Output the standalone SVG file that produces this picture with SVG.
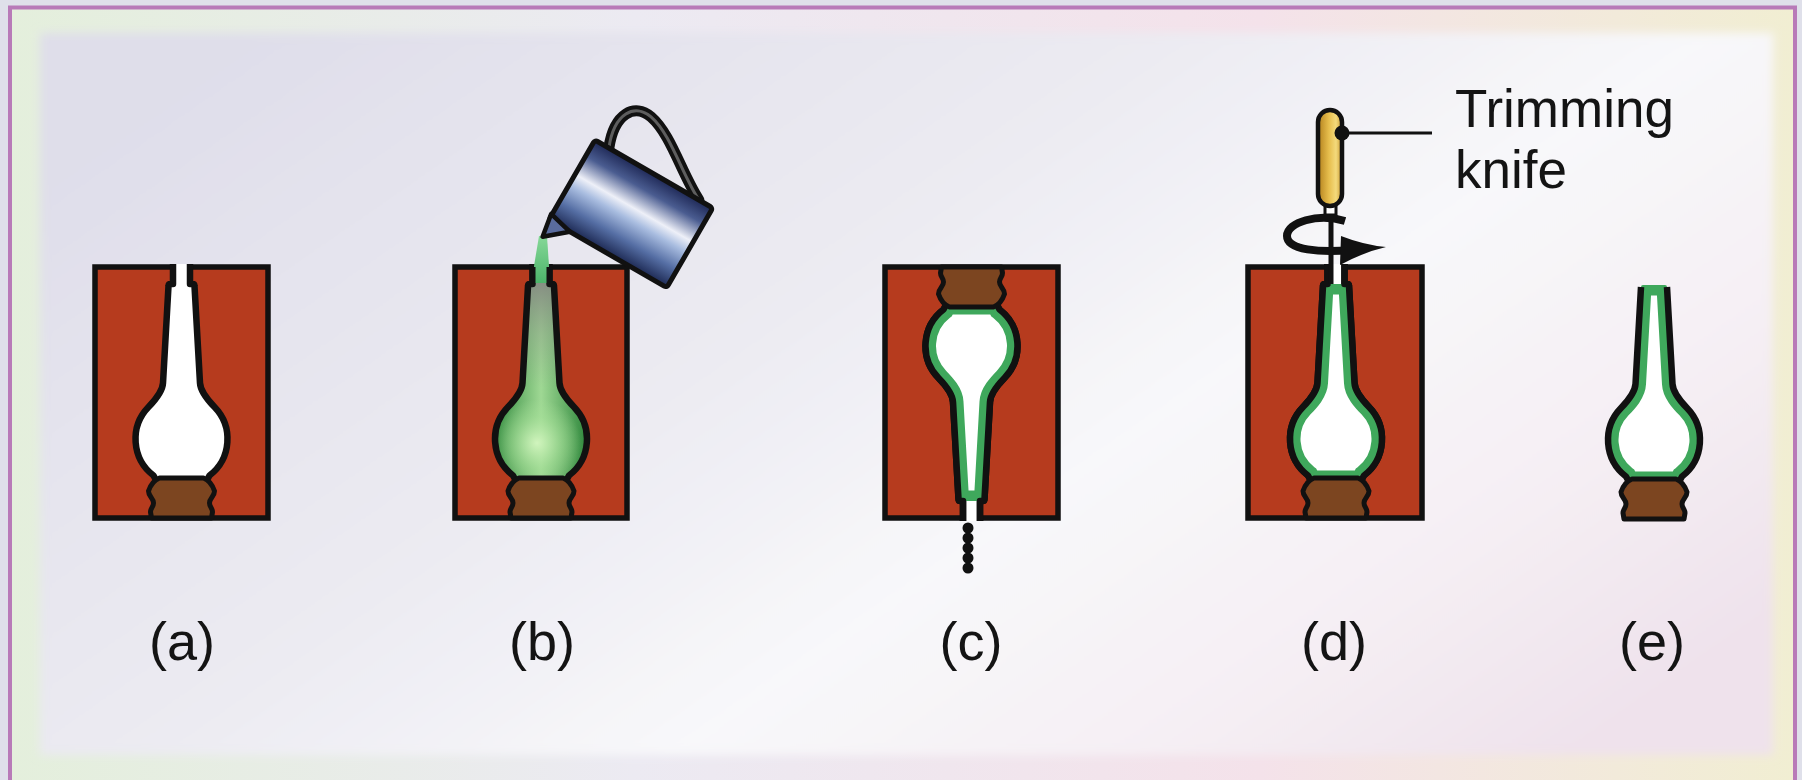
<svg xmlns="http://www.w3.org/2000/svg" xmlns:xlink="http://www.w3.org/1999/xlink" width="1802" height="780" viewBox="0 0 1802 780">
  <defs>
    <style>
      .mold { fill: #b63b1e; stroke: #111; stroke-width: 5.5; }
      .cav { fill: #fff; stroke: #111; stroke-width: 6.5; stroke-linejoin: round; }
      .edge { fill: none; stroke: #111; stroke-width: 6.5; stroke-linejoin: round; }
      .band { fill: #fff; stroke: #3fa85c; stroke-width: 21; }
      .plug { fill: #7c4520; stroke: #111; stroke-width: 5; stroke-linejoin: round; }
      .lbl { font-family: "Liberation Sans", Arial, sans-serif; font-size: 54px; fill: #141414; text-anchor: middle; }
      .note { font-family: "Liberation Sans", Arial, sans-serif; font-size: 53px; fill: #141414; }
    </style>

    <!-- bottle side walls, open at the neck top (local units: x from mold axis, y from mold top) -->
    <path id="shell" d="M -13 19 L -18.5 116 C -18.9 125 -26.7 133.5 -33 140 A 46 46 0 0 0 -28 208.5 L -25 214 L 25 214 L 28 208.5 A 46 46 0 0 0 33 140 C 26.7 133.5 18.9 125 18.5 116 L 13 19"/>
    <!-- closed bottle outline -->
    <path id="bottle" d="M -13 19 L -18.5 116 C -18.9 125 -26.7 133.5 -33 140 A 46 46 0 0 0 -28 208.5 L -25 214 L 25 214 L 28 208.5 A 46 46 0 0 0 33 140 C 26.7 133.5 18.9 125 18.5 116 L 13 19 Q 13 17 11 17 L -11 17 Q -13 17 -13 19 Z"/>
    <!-- mould cavity: bottle plus pouring gap through the mould wall -->
    <path id="cavity" d="M -8.5 -3 L -8.5 17 L -11 17 Q -13 17 -13 19 L -18.5 116 C -18.9 125 -26.7 133.5 -33 140 A 46 46 0 0 0 -28 208.5 L -25 214 L 25 214 L 28 208.5 A 46 46 0 0 0 33 140 C 26.7 133.5 18.9 125 18.5 116 L 13 19 Q 13 17 11 17 L 8.5 17 L 8.5 -3"/>
    <!-- base plug -->
    <path id="plug" d="M -22 211 L 22 211 C 27 213 31 218 33 224 C 33 230 28 231 28 236 C 28 240 31 241 31 245 L 30 251 L -30 251 L -31 245 C -31 241 -28 240 -28 236 C -28 231 -33 230 -33 224 C -31 218 -27 213 -22 211 Z"/>

    <clipPath id="bclip" clipPathUnits="userSpaceOnUse">
      <use xlink:href="#bottle"/>
    </clipPath>

    <linearGradient id="bandGrad" x1="0" y1="0" x2="1" y2="0">
      <stop offset="0" stop-color="#e4efdc"/>
      <stop offset="0.35" stop-color="#eceaf2"/>
      <stop offset="0.7" stop-color="#f4e2ea"/>
      <stop offset="1" stop-color="#f1eed2"/>
    </linearGradient>
    <linearGradient id="panelGrad" x1="0" y1="0.2" x2="1" y2="0.8">
      <stop offset="0" stop-color="#dfdeea"/>
      <stop offset="0.4" stop-color="#ecebf2"/>
      <stop offset="0.62" stop-color="#f8f8fa"/>
      <stop offset="0.82" stop-color="#f5eff4"/>
      <stop offset="1" stop-color="#efe2ec"/>
    </linearGradient>
    <filter id="soft" x="-0.05" y="-0.05" width="1.1" height="1.1">
      <feGaussianBlur stdDeviation="5"/>
    </filter>

    <!-- molten slip colours -->
    <linearGradient id="slipBase" gradientUnits="userSpaceOnUse" x1="-48" y1="0" x2="48" y2="0">
      <stop offset="0" stop-color="#2a8438"/>
      <stop offset="0.5" stop-color="#9fd894"/>
      <stop offset="1" stop-color="#2a8438"/>
    </linearGradient>
    <radialGradient id="slipGlow" gradientUnits="userSpaceOnUse" cx="-4" cy="176" r="44">
      <stop offset="0" stop-color="#d4f6c0" stop-opacity="0.95"/>
      <stop offset="0.6" stop-color="#a8e29a" stop-opacity="0.5"/>
      <stop offset="1" stop-color="#a8e29a" stop-opacity="0"/>
    </radialGradient>
    <linearGradient id="slipNeck" gradientUnits="userSpaceOnUse" x1="0" y1="15" x2="0" y2="120">
      <stop offset="0" stop-color="#858a82" stop-opacity="0.95"/>
      <stop offset="0.5" stop-color="#8d9a88" stop-opacity="0.45"/>
      <stop offset="1" stop-color="#8d9a88" stop-opacity="0"/>
    </linearGradient>
    <linearGradient id="stream" x1="0" y1="0" x2="0" y2="1">
      <stop offset="0" stop-color="#86d898"/>
      <stop offset="1" stop-color="#4cb46a"/>
    </linearGradient>

    <linearGradient id="pitcher" x1="0" y1="0" x2="0" y2="1">
      <stop offset="0" stop-color="#1e2856"/>
      <stop offset="0.2" stop-color="#4a5c90"/>
      <stop offset="0.43" stop-color="#eef0f8"/>
      <stop offset="0.56" stop-color="#a9bde0"/>
      <stop offset="0.78" stop-color="#556ea4"/>
      <stop offset="1" stop-color="#1c2852"/>
    </linearGradient>
    <linearGradient id="brass" x1="0" y1="0" x2="1" y2="0">
      <stop offset="0" stop-color="#b3801c"/>
      <stop offset="0.45" stop-color="#e6bd4c"/>
      <stop offset="0.75" stop-color="#f4da7c"/>
      <stop offset="1" stop-color="#c8982e"/>
    </linearGradient>
  </defs>

  <!-- backdrop and frame -->
  <g id="backdrop">
    <rect x="0" y="0" width="1802" height="780" fill="#dfe0ea"/>
    <rect x="10" y="8" width="1785" height="790" fill="url(#bandGrad)"/>
    <rect x="40" y="33" width="1733" height="722" fill="url(#panelGrad)" filter="url(#soft)"/>
    <rect x="10" y="7.5" width="1785" height="800" fill="none" stroke="#b87ab8" stroke-width="4"/>
  </g>

  <!-- (a) empty mould -->
  <g id="step-a">
    <rect class="mold" x="95" y="267" width="173" height="251"/>
    <g transform="translate(181.5,267)">
      <use xlink:href="#cavity" class="cav"/>
      <use xlink:href="#plug" class="plug"/>
    </g>
    <text class="lbl" x="182" y="660">(a)</text>
  </g>

  <!-- (b) pouring slip into the mould -->
  <g id="step-b">
    <rect class="mold" x="455" y="267" width="172" height="251"/>
    <g transform="translate(541,267)">
      <use xlink:href="#cavity" fill="url(#slipBase)"/>
      <use xlink:href="#cavity" fill="url(#slipGlow)"/>
      <use xlink:href="#cavity" fill="url(#slipNeck)"/>
      <use xlink:href="#cavity" class="edge"/>
      <use xlink:href="#plug" class="plug"/>
    </g>
    <polygon points="539,236 547,236 549,266 549,283 534,283 534,266" fill="url(#stream)"/>
    <line x1="532.5" y1="267" x2="532.5" y2="283" stroke="#111" stroke-width="6"/>
    <line x1="549.5" y1="267" x2="549.5" y2="283" stroke="#111" stroke-width="6"/>
    <g id="pitcher-jug" transform="translate(595,140) rotate(30)">
      <path d="M 16 0 C 3 -33 16 -52 37 -48 C 63 -43 92 -14 120 0" fill="none" stroke="#111" stroke-width="11" stroke-linecap="round"/>
      <path d="M 16 0 C 3 -33 16 -52 37 -48 C 63 -43 92 -14 120 0" fill="none" stroke="#5e5e5e" stroke-width="3"/>
      <rect x="0" y="0" width="136" height="92" rx="3" fill="url(#pitcher)" stroke="#111" stroke-width="5"/>
      <polygon points="-1,86 3,110 24,92" fill="#5a6c9e" stroke="#111" stroke-width="4.5" stroke-linejoin="round"/>
    </g>
    <text class="lbl" x="542" y="660">(b)</text>
  </g>

  <!-- (c) mould inverted and drained -->
  <g id="step-c">
    <rect class="mold" x="885" y="267" width="173" height="251"/>
    <g transform="translate(971.5,518) scale(1,-1)">
      <use xlink:href="#cavity" class="cav"/>
      <use xlink:href="#bottle" class="band" clip-path="url(#bclip)"/>
      <use xlink:href="#cavity" class="edge"/>
      <use xlink:href="#plug" class="plug"/>
    </g>
    <g fill="#111">
      <circle cx="968" cy="528" r="5.5"/>
      <circle cx="968" cy="538" r="5.5"/>
      <circle cx="968" cy="548" r="5.5"/>
      <circle cx="968" cy="558" r="5.5"/>
      <circle cx="968" cy="568" r="5.5"/>
    </g>
    <text class="lbl" x="971" y="660">(c)</text>
  </g>

  <!-- (d) trimming the neck -->
  <g id="step-d">
    <rect class="mold" x="1248" y="267" width="174" height="251"/>
    <g transform="translate(1336,267)">
      <use xlink:href="#cavity" class="cav"/>
      <use xlink:href="#bottle" class="band" clip-path="url(#bclip)"/>
      <use xlink:href="#cavity" class="edge"/>
      <use xlink:href="#plug" class="plug"/>
    </g>
    <g id="knife">
      <line x1="1331" y1="205" x2="1331" y2="284" stroke="#111" stroke-width="5"/>
      <rect x="1325" y="203" width="11" height="12" fill="#fff" stroke="#111" stroke-width="3"/>
      <rect x="1318" y="110" width="24" height="96" rx="12" fill="url(#brass)" stroke="#111" stroke-width="4.5"/>
      <path d="M 1345 221 C 1318 213 1287 222 1287 236 C 1287 250 1320 253 1352 250" fill="none" stroke="#111" stroke-width="8"/>
      <path d="M 1341 236 Q 1364 245 1386 247 Q 1364 252 1340 265 Z" fill="#111"/>
    </g>
    <g id="knife-callout">
      <line x1="1342" y1="133" x2="1432" y2="133" stroke="#111" stroke-width="3"/>
      <circle cx="1342" cy="133" r="7.5" fill="#111"/>
      <text class="note" x="1455" y="127">Trimming</text>
      <text class="note" x="1455" y="188">knife</text>
    </g>
    <text class="lbl" x="1334" y="660">(d)</text>
  </g>

  <!-- (e) finished casting -->
  <g id="step-e">
    <g transform="translate(1654,268)">
      <use xlink:href="#bottle" class="band" clip-path="url(#bclip)"/>
      <use xlink:href="#shell" class="edge"/>
      <use xlink:href="#plug" class="plug"/>
    </g>
    <text class="lbl" x="1652" y="660">(e)</text>
  </g>
</svg>
